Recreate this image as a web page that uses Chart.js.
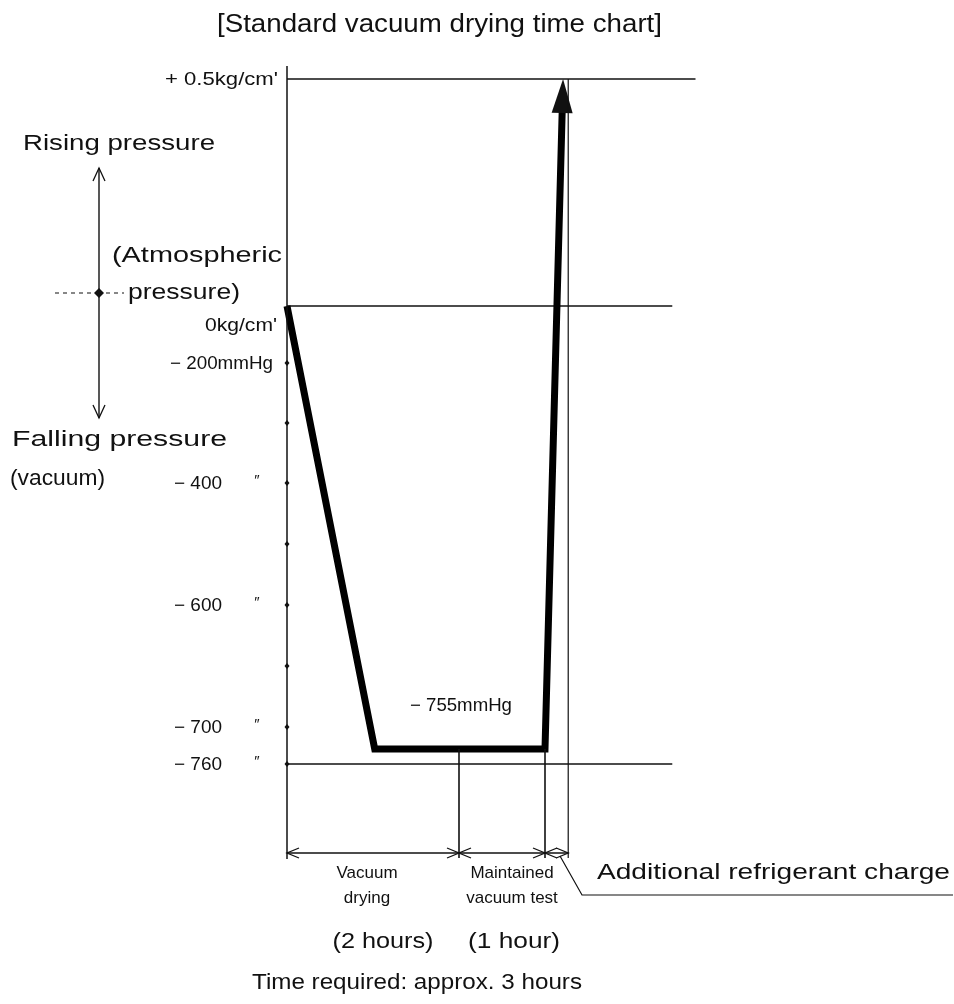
<!DOCTYPE html>
<html>
<head>
<meta charset="utf-8">
<script src="https://cdn.jsdelivr.net/npm/chart.js@4.4.1/dist/chart.umd.min.js"></script>
<style>
  body { margin: 0; background: #fff; }
  canvas { display: block; }
</style>
</head>
<body>
<canvas id="vacuumChart" width="954" height="1004"></canvas>
<script>
// process curve (time in hours, gauge pressure in mmHg; +0.5 kg/cm2 ~ +368 mmHg)
const timeHours = [0, 1.02, 3.0, 3.21];
const pressureMmHg = [0, -755, -755, 368];

// thin reference levels and how far right they run (hours)
const refLevels = [368, 0, -760];
const refEnds = [4.75, 4.48, 4.48];

// pressure axis ticks
const pressureTicks = [368, 0, -200, -300, -400, -500, -600, -650, -700, -760];
const tickLabels = ["+ 0.5kg/cm'", "0kg/cm'", "− 200mmHg", "", "− 400", "", "− 600", "", "− 700", "− 760"];
const dittoTicks = [-400, -600, -700, -760];

// time phases
const phaseBounds = [0, 2, 3, 3.27];
const phaseNames = [["Vacuum", "drying"], ["Maintained", "vacuum test"]];
const phaseDurations = ["(2 hours)", "(1 hour)"];

// where each pressure sits on the (non linear) drawn axis, 0 = top, 1 = bottom
const axisStops = [[368, 0], [0, 0.3314], [-200, 0.4146], [-400, 0.5898],
  [-600, 0.7679], [-700, 0.9460], [-755, 0.9781], [-760, 1]];

class PiecewiseScale extends Chart.LinearScale {
  valueToFrac(v) {
    for (let i = 0; i < axisStops.length - 1; i++) {
      const [v0, f0] = axisStops[i];
      const [v1, f1] = axisStops[i + 1];
      if (v <= v0 && v >= v1) return f0 + (v0 - v) / (v0 - v1) * (f1 - f0);
    }
    return v > axisStops[0][0] ? 0 : 1;
  }
  getPixelForValue(value) {
    return this.top + this.valueToFrac(value) * (this.bottom - this.top);
  }
  getValueForPixel(pixel) {
    const f = (pixel - this.top) / (this.bottom - this.top);
    for (let i = 0; i < axisStops.length - 1; i++) {
      const [v0, f0] = axisStops[i];
      const [v1, f1] = axisStops[i + 1];
      if (f >= f0 && f <= f1) return v0 - (f - f0) / (f1 - f0) * (v0 - v1);
    }
    return f < 0 ? axisStops[0][0] : axisStops[axisStops.length - 1][0];
  }
}
PiecewiseScale.id = 'piecewise';
PiecewiseScale.defaults = Chart.LinearScale.defaults;
Chart.register(PiecewiseScale);

const SANS = '"Liberation Sans", Arial, sans-serif';

// draw text squeezed/stretched to the width it has in the print
function txt(ctx, s, x, y, size, width, align, family) {
  ctx.save();
  ctx.font = size + 'px ' + (family || SANS);
  const w = ctx.measureText(s).width;
  ctx.translate(x, y);
  if (width) ctx.scale(width / w, 1);
  ctx.textAlign = align || 'left';
  ctx.textBaseline = 'middle';
  ctx.fillStyle = '#111';
  ctx.fillText(s, 0, 0);
  ctx.restore();
}

function line(ctx, pts, w) {
  ctx.beginPath();
  ctx.lineWidth = w || 1.3;
  ctx.moveTo(pts[0][0], pts[0][1]);
  for (let i = 1; i < pts.length; i++) ctx.lineTo(pts[i][0], pts[i][1]);
  ctx.stroke();
}

// open "V" arrow head, tip at (x,y), dir = angle it points to
function openHead(ctx, x, y, dir, len, half) {
  const bx = x - Math.cos(dir) * len, by = y - Math.sin(dir) * len;
  const nx = -Math.sin(dir) * half, ny = Math.cos(dir) * half;
  line(ctx, [[bx + nx, by + ny], [x, y], [bx - nx, by - ny]], 1.3);
}

const decor = {
  id: 'decor',
  afterDatasetsDraw(chart) {
    const ctx = chart.ctx;
    const xs = chart.scales.x, ys = chart.scales.y;
    ctx.save();
    ctx.strokeStyle = '#111';
    ctx.fillStyle = '#111';

    // solid arrow head at the end of the process curve
    const n = timeHours.length;
    const tx = xs.getPixelForValue(timeHours[n - 1]), ty = ys.getPixelForValue(pressureMmHg[n - 1]);
    const px = xs.getPixelForValue(timeHours[n - 2]), py = ys.getPixelForValue(pressureMmHg[n - 2]);
    const a = Math.atan2(ty - py, tx - px);
    const L = 34, H = 10.5;
    ctx.beginPath();
    ctx.moveTo(tx, ty);
    ctx.lineTo(tx - Math.cos(a) * L - Math.sin(a) * H, ty - Math.sin(a) * L + Math.cos(a) * H);
    ctx.lineTo(tx - Math.cos(a) * L + Math.sin(a) * H, ty - Math.sin(a) * L - Math.cos(a) * H);
    ctx.closePath();
    ctx.fill();

    const x0 = xs.getPixelForValue(0);
    const dimY = ys.getPixelForValue(-760) + 89;

    // pressure axis
    line(ctx, [[x0, ys.getPixelForValue(368) - 13], [x0, dimY + 6]], 1.5);
    pressureTicks.forEach((v, i) => {
      const y = ys.getPixelForValue(v);
      if (v < 0) {
        ctx.beginPath();
        ctx.moveTo(x0, y - 3); ctx.lineTo(x0 + 2.5, y); ctx.lineTo(x0, y + 3); ctx.lineTo(x0 - 2.5, y);
        ctx.closePath(); ctx.fill();
      }
      const lab = tickLabels[i];
      if (!lab) return;
      if (v === 368) txt(ctx, lab, x0 - 9, y + 1, 18, 113, 'right');
      else if (v === 0) txt(ctx, lab, x0 - 10, y + 20, 18, 72, 'right');
      else if (v === -200) txt(ctx, lab, x0 - 14, y + 1, 18, 103, 'right');
      else txt(ctx, lab, x0 - 65, y + 1, 18, 48, 'right');
    });
    dittoTicks.forEach(v => {
      txt(ctx, '″', x0 - 30, ys.getPixelForValue(v) - 2, 15, null, 'center');
    });

    // -755mmHg note
    txt(ctx, '− 755mmHg', xs.getPixelForValue(1.43), ys.getPixelForValue(-755) - 43, 18, 102, 'left');

    // phase boundary verticals
    const xb = phaseBounds.map(v => xs.getPixelForValue(v));
    line(ctx, [[xb[1], ys.getPixelForValue(-755)], [xb[1], dimY + 5]], 1.6);
    line(ctx, [[xb[2], ys.getPixelForValue(-755)], [xb[2], dimY + 5]], 1.6);
    line(ctx, [[xb[3], ys.getPixelForValue(368)], [xb[3], dimY + 5]], 1.2);

    // dimension line with arrows
    line(ctx, [[xb[0], dimY], [xb[3], dimY]], 1.3);
    for (let i = 0; i < xb.length - 1; i++) {
      openHead(ctx, xb[i], dimY, Math.PI, 12, 5);
      openHead(ctx, xb[i + 1], dimY, 0, 12, 5);
    }

    // phase names and durations
    phaseNames.forEach((nm, i) => {
      const cx = (xb[i] + xb[i + 1]) / 2;
      const off = i === 0 ? -6 : 10;
      txt(ctx, nm[0], cx + off, dimY + 20, 17, null, 'center');
      txt(ctx, nm[1], cx + off, dimY + 45, 17, null, 'center');
      txt(ctx, phaseDurations[i], cx + (i === 0 ? 10 : 12), dimY + 89, 22, i === 0 ? 101 : 92, 'center');
    });
    txt(ctx, 'Time required: approx. 3 hours', 252, dimY + 130, 22, 330, 'left');

    // leader to last phase
    line(ctx, [[xb[2] + 15, dimY + 3], [xb[2] + 37, dimY + 42], [953, dimY + 42]], 1.2);
    txt(ctx, 'Additional refrigerant charge', 597, dimY + 20, 22, 353, 'left');

    // left side notes
    txt(ctx, 'Rising pressure', 23, 144, 22, 192, 'left');
    txt(ctx, '(Atmospheric', 112, 256, 22, 170, 'left');
    txt(ctx, 'pressure)', 128, 293, 22, 112, 'left');
    txt(ctx, 'Falling pressure', 12, 440, 22, 215, 'left');
    txt(ctx, '(vacuum)', 10, 479, 22, 95, 'left');
    const ax = 99, ay = ys.getPixelForValue(0) - 13;
    line(ctx, [[ax, 168], [ax, 418]], 1.4);
    openHead(ctx, ax, 168, -Math.PI / 2, 13, 6);
    openHead(ctx, ax, 418, Math.PI / 2, 13, 6);
    ctx.save();
    ctx.setLineDash([4, 4]);
    line(ctx, [[55, ay], [92, ay]], 1.2);
    line(ctx, [[106, ay], [124, ay]], 1.2);
    ctx.restore();
    ctx.beginPath();
    ctx.moveTo(ax, ay - 5); ctx.lineTo(ax + 5, ay); ctx.lineTo(ax, ay + 5); ctx.lineTo(ax - 5, ay);
    ctx.closePath(); ctx.fill();

    // title
    txt(ctx, '[Standard vacuum drying time chart]', 217, 25, 26, 445, 'left');
    ctx.restore();
  }
};

const refDatasets = refLevels.map((lv, i) => ({
  data: [{ x: 0, y: lv }, { x: refEnds[i], y: lv }],
  borderColor: '#111',
  borderWidth: 1.3,
  pointRadius: 0,
  clip: false
}));

new Chart(document.getElementById('vacuumChart'), {
  type: 'line',
  data: {
    datasets: [{
      data: timeHours.map((t, i) => ({ x: t, y: pressureMmHg[i] })),
      borderColor: '#000',
      borderWidth: 7,
      borderJoinStyle: 'miter',
      pointRadius: 0,
      tension: 0,
      clip: { left: 6, top: -28, right: 6, bottom: 8 }
    }].concat(refDatasets)
  },
  options: {
    responsive: false,
    animation: false,
    devicePixelRatio: 1,
    layout: { padding: { left: 287, top: 79, right: 954 - 695.5, bottom: 1004 - 764 } },
    scales: {
      x: { type: 'linear', min: 0, max: 4.75, display: false },
      y: { type: 'piecewise', min: -760, max: 368, display: false }
    },
    plugins: { legend: { display: false }, tooltip: { enabled: false } }
  },
  plugins: [decor]
});
</script>
</body>
</html>
